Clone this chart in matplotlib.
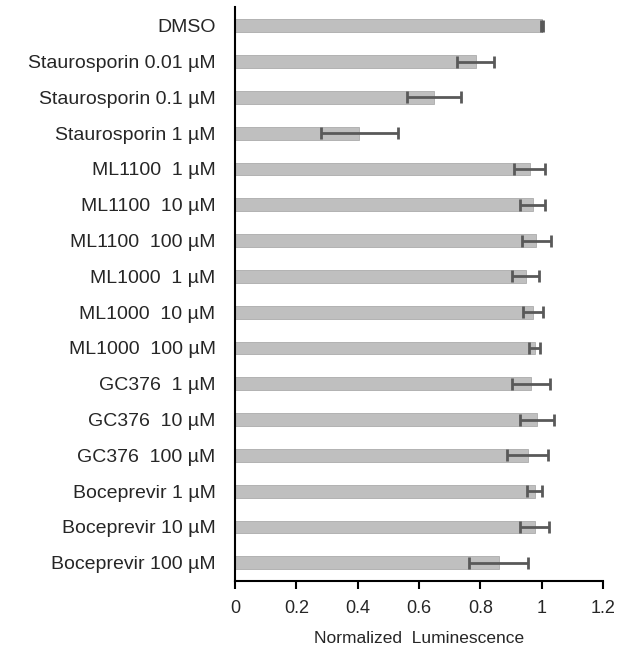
import numpy as np
import matplotlib
matplotlib.use("Agg")
import matplotlib.pyplot as plt

plt.rcParams['font.family'] = ['Liberation Sans', 'DejaVu Sans']

labels = [
    'DMSO',
    'Staurosporin 0.01 µM',
    'Staurosporin 0.1 µM',
    'Staurosporin 1 µM',
    'ML1100  1 µM',
    'ML1100  10 µM',
    'ML1100  100 µM',
    'ML1000  1 µM',
    'ML1000  10 µM',
    'ML1000  100 µM',
    'GC376  1 µM',
    'GC376  10 µM',
    'GC376  100 µM',
    'Boceprevir 1 µM',
    'Boceprevir 10 µM',
    'Boceprevir 100 µM',
]
values = [1.0, 0.785, 0.648, 0.406, 0.961, 0.971, 0.983, 0.948,
          0.973, 0.977, 0.965, 0.986, 0.954, 0.977, 0.977, 0.860]
errors = [0.003, 0.06, 0.088, 0.127, 0.051, 0.041, 0.048, 0.045,
          0.033, 0.017, 0.061, 0.055, 0.068, 0.024, 0.048, 0.097]

fig = plt.figure(figsize=(6.2, 6.51), dpi=100)
ax = fig.add_axes([0.379, 0.1075, 0.5935, 0.8815])

y = np.arange(len(labels))
ax.barh(y, values, height=0.36, color='#BFBFBF', edgecolor='#ABABAB',
        linewidth=0.6, zorder=2)
ax.errorbar(values, y, xerr=errors, fmt='none', ecolor='#595959',
            elinewidth=2, capsize=4.3, capthick=2, zorder=3)

ax.set_ylim(len(labels) - 0.49, -0.52)
ax.set_xlim(0, 1.2)
ax.set_xticks([0, 0.2, 0.4, 0.6, 0.8, 1.0, 1.2])
ax.set_xticklabels(['0', '0.2', '0.4', '0.6', '0.8', '1', '1.2'])
ax.set_yticks(y)
ax.set_yticklabels(labels)

for s in ['top', 'right']:
    ax.spines[s].set_visible(False)
for s in ['left', 'bottom']:
    ax.spines[s].set_linewidth(1.5)
    ax.spines[s].set_color('black')

ax.tick_params(axis='y', length=0, pad=14, labelsize=14, labelcolor='#262626')
ax.tick_params(axis='x', direction='out', length=6, width=1.5, pad=8,
               labelsize=13, labelcolor='#262626')
ax.set_xlabel('Normalized  Luminescence', fontsize=12.5, color='#262626', labelpad=10)

fig.savefig('out.png', dpi=100)
